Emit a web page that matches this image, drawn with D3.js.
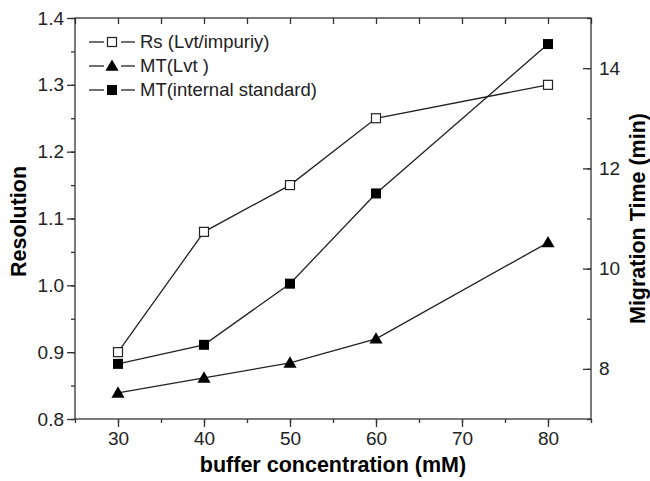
<!DOCTYPE html>
<html>
<head>
<meta charset="utf-8">
<script src="https://cdn.jsdelivr.net/npm/d3@7"></script>
<style>
  body { margin: 0; background: #fff; }
  svg { font-family: "Liberation Sans", Arial, sans-serif; }
  .axis text { font-size: 19px; fill: #222; }
  .axis path, .axis line { stroke: #333; stroke-width: 1.3; }
</style>
</head>
<body>
<div id="chart"></div>
<script>
// buffer concentration (mM)
const concentrations = [30, 40, 50, 60, 80];
// left axis: resolution
const rsValues = [0.90, 1.08, 1.15, 1.25, 1.30];
// right axis: migration time (min)
const mtLvt = [7.52, 7.82, 8.12, 8.60, 10.52];
const mtInternal = [8.10, 8.48, 9.70, 11.50, 14.48];

const xTicks = [30, 40, 50, 60, 70, 80];
const yLeftTicks = [0.8, 0.9, 1.0, 1.1, 1.2, 1.3, 1.4];
const yRightTicks = [8, 10, 12, 14];

const width = 650, height = 481;
const margin = { top: 18, right: 59, bottom: 62, left: 75 };
const inner = { width: width - margin.left - margin.right, height: height - margin.top - margin.bottom };

const svg = d3.select('#chart').append('svg')
  .attr('width', width).attr('height', height);

const g = svg.append('g').attr('transform', `translate(${margin.left},${margin.top})`);

const x = d3.scaleLinear().domain([25, 85]).range([0, inner.width]);
const yL = d3.scaleLinear().domain([0.8, 1.4]).range([inner.height, 0]);
const yR = d3.scaleLinear().domain([7, 15]).range([inner.height, 0]);

// minor ticks first, then major axes with labels
const minorX = d3.range(25, 86, 5);
const minorL = d3.range(0.8, 1.401, 0.05);
const minorR = d3.range(7, 15.01, 1);

g.append('g').attr('class', 'axis').attr('transform', `translate(0,${inner.height})`)
  .call(d3.axisBottom(x).tickValues(minorX).tickSize(4).tickFormat(''));
g.append('g').attr('class', 'axis').attr('transform', `translate(0,${inner.height})`)
  .call(d3.axisBottom(x).tickValues(xTicks).tickSize(8).tickPadding(5).tickFormat(d3.format('d')));

g.append('g').attr('class', 'axis')
  .call(d3.axisTop(x).tickValues(minorX).tickSize(-6).tickFormat(''));

g.append('g').attr('class', 'axis')
  .call(d3.axisLeft(yL).tickValues(minorL).tickSize(4).tickFormat(''));
g.append('g').attr('class', 'axis')
  .call(d3.axisLeft(yL).tickValues(yLeftTicks).tickSize(8).tickPadding(3).tickFormat(d3.format('.1f')));

g.append('g').attr('class', 'axis').attr('transform', `translate(${inner.width},0)`)
  .call(d3.axisRight(yR).tickValues(minorR).tickSize(-4).tickFormat(''));
g.append('g').attr('class', 'axis').attr('transform', `translate(${inner.width},0)`)
  .call(d3.axisRight(yR).tickValues(yRightTicks).tickSize(-8).tickPadding(8).tickFormat(d3.format('d')));

// plain domain lines, without the outer tick ends
g.selectAll('.axis .domain').remove();
g.append('rect').attr('width', inner.width).attr('height', inner.height)
  .attr('fill', 'none').attr('stroke', '#333').attr('stroke-width', 1.3);

const series = [
  { name: 'Rs (Lvt/impuriy)', values: rsValues, y: yL, marker: 'openSquare' },
  { name: 'MT(Lvt )', values: mtLvt, y: yR, marker: 'triangle' },
  { name: 'MT(internal standard)', values: mtInternal, y: yR, marker: 'square' }
];

function drawMarker(sel, type) {
  if (type === 'triangle') {
    sel.append('path').attr('d', d3.symbol().type(d3.symbolTriangle).size(75)())
      .attr('transform', 'translate(0,1)').attr('fill', '#000');
  } else if (type === 'square') {
    sel.append('rect').attr('x', -5).attr('y', -5).attr('width', 10).attr('height', 10).attr('fill', '#000');
  } else {
    sel.append('rect').attr('x', -4.5).attr('y', -4.5).attr('width', 9).attr('height', 9)
      .attr('fill', '#fff').attr('stroke', '#222').attr('stroke-width', 1.2);
  }
}

series.forEach(s => {
  const pts = concentrations.map((c, i) => [x(c), s.y(s.values[i])]);
  g.append('path').attr('d', d3.line()(pts))
    .attr('fill', 'none').attr('stroke', '#222').attr('stroke-width', 1.3);
  pts.forEach(p => {
    drawMarker(g.append('g').attr('transform', `translate(${p[0]},${p[1]})`), s.marker);
  });
});

// legend
const legend = svg.append('g').attr('transform', 'translate(89,42)');
series.forEach((s, i) => {
  const row = legend.append('g').attr('transform', `translate(0,${i * 24})`);
  row.append('line').attr('x1', 0).attr('x2', 15).attr('stroke', '#222').attr('stroke-width', 1.3);
  row.append('line').attr('x1', 32).attr('x2', 46).attr('stroke', '#222').attr('stroke-width', 1.3);
  drawMarker(row.append('g').attr('transform', 'translate(23,0)'), s.marker);
  row.append('text').attr('x', 51).attr('dy', '0.35em')
    .style('font-size', '18.5px').style('fill', '#222').text(s.name);
});

// axis titles
svg.append('text').attr('x', margin.left + inner.width / 2).attr('y', 472)
  .attr('text-anchor', 'middle').style('font-size', '21.5px').style('font-weight', 'bold')
  .text('buffer concentration (mM)');

svg.append('text').attr('transform', `translate(26,${margin.top + inner.height / 2 + 3}) rotate(-90)`)
  .attr('text-anchor', 'middle').style('font-size', '21.5px').style('font-weight', 'bold')
  .text('Resolution');

svg.append('text').attr('transform', `translate(645,${margin.top + inner.height / 2}) rotate(-90)`)
  .attr('text-anchor', 'middle').style('font-size', '21.5px').style('font-weight', 'bold')
  .text('Migration Time (min)');
</script>
</body>
</html>
